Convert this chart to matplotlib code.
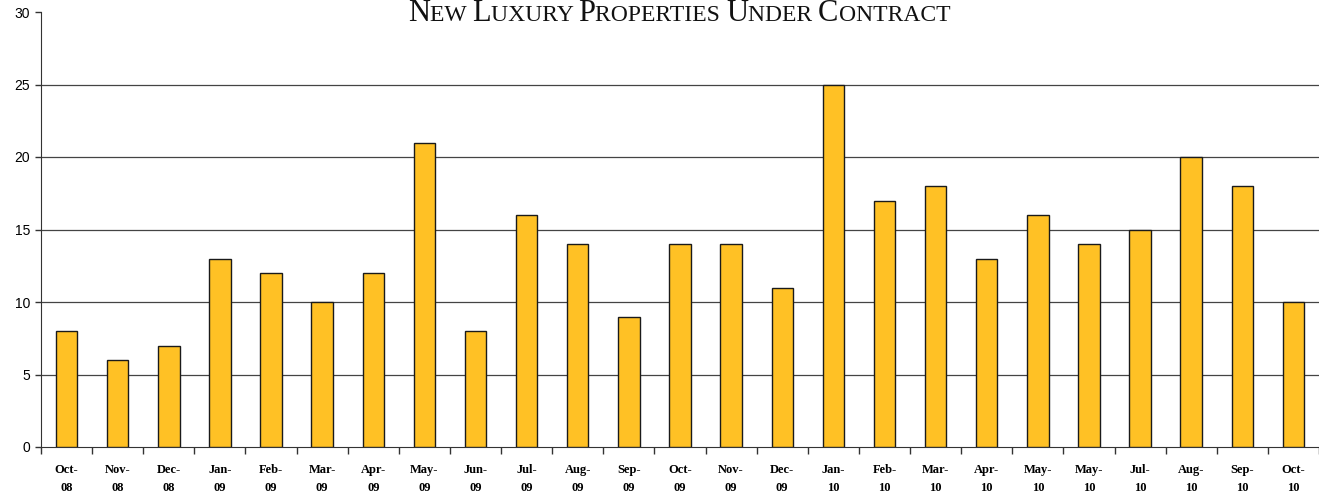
import numpy as np
import matplotlib
matplotlib.use("Agg")
import matplotlib.pyplot as plt
from matplotlib.ticker import FixedLocator

months = ["Oct-\n08", "Nov-\n08", "Dec-\n08", "Jan-\n09", "Feb-\n09", "Mar-\n09",
          "Apr-\n09", "May-\n09", "Jun-\n09", "Jul-\n09", "Aug-\n09", "Sep-\n09",
          "Oct-\n09", "Nov-\n09", "Dec-\n09", "Jan-\n10", "Feb-\n10", "Mar-\n10",
          "Apr-\n10", "May-\n10", "May-\n10", "Jul-\n10", "Aug-\n10", "Sep-\n10",
          "Oct-\n10"]
contracts = [8, 6, 7, 13, 12, 10, 12, 21, 8, 16, 14, 9, 14, 14, 11, 25, 17, 18,
             13, 16, 14, 15, 20, 18, 10]

# title pieces: (text, size) to fake small caps
title_parts = [("N", 22), ("EW ", 17), ("L", 22), ("UXURY ", 17), ("P", 22),
               ("ROPERTIES ", 17), ("U", 22), ("NDER ", 17), ("C", 22),
               ("ONTRACT", 17)]

fig = plt.figure(figsize=(13.19, 4.96), dpi=100)
ax = fig.add_axes([41 / 1319, 1 - 447 / 496, 1 - 41 / 1319, (447 - 12) / 496])

x = np.arange(len(contracts))
ax.bar(x, contracts, width=0.42, color="#FFC125", edgecolor="#1a1a1a",
       linewidth=1.0, zorder=3)

ax.set_xlim(-0.5, len(contracts) - 0.5)
ax.set_ylim(0, 30)
ax.set_yticks([0, 5, 10, 15, 20, 25, 30])
for v in [5, 10, 15, 20, 25]:
    ax.axhline(v, color="#444444", linewidth=0.9, zorder=1)

ax.xaxis.set_major_locator(FixedLocator(np.arange(len(contracts) + 1) - 0.5))
ax.xaxis.set_minor_locator(FixedLocator(x))
ax.set_xticklabels([])
ax.set_xticklabels(months, minor=True, family="Liberation Serif",
                   fontweight="bold", fontsize=9, linespacing=1.65)
ax.tick_params(axis="x", which="major", direction="out", length=5, width=1,
               color="#333333")
ax.tick_params(axis="x", which="minor", length=0, pad=12)
ax.tick_params(axis="y", direction="out", length=4, width=1, color="#333333",
               labelsize=10, pad=4)
for lab in ax.get_yticklabels():
    lab.set_family("Liberation Sans")

for s in ["top", "right"]:
    ax.spines[s].set_visible(False)
ax.spines["left"].set_color("#333333")
ax.spines["bottom"].set_color("#333333")

# small caps title built from pieces
fig.canvas.draw()
renderer = fig.canvas.get_renderer()
texts = []
for t, sz in title_parts:
    texts.append(fig.text(0, 0, t, fontsize=sz, family="Liberation Serif",
                          va="baseline", ha="left", color="#111111"))
widths = [tt.get_window_extent(renderer).width for tt in texts]
total = sum(widths)
x0 = 679 - total / 2
for tt, w in zip(texts, widths):
    tt.set_position((x0 / 1319, 1 - 21 / 496))
    x0 += w

fig.savefig("out.png", dpi=100)
